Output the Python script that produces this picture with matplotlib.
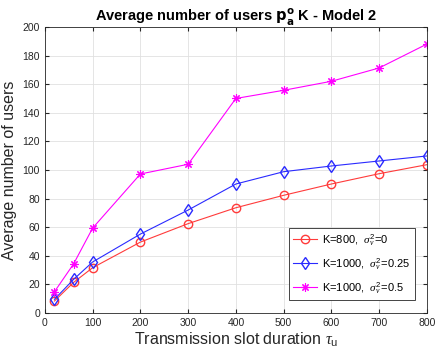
import matplotlib
matplotlib.use('Agg')
import matplotlib.pyplot as plt

plt.rcParams['font.family'] = ['Liberation Sans', 'DejaVu Sans']
plt.rcParams['mathtext.fontset'] = 'custom'
plt.rcParams['mathtext.rm'] = 'Liberation Sans'
plt.rcParams['mathtext.it'] = 'Liberation Serif:italic'

tau = [20, 60, 100, 200, 300, 400, 500, 600, 700, 800]
k800_s0 = [8.4, 21.4, 31.7, 49.6, 62.5, 73.6, 82.3, 90.2, 97.4, 103.7]
k1000_s025 = [9.6, 23.5, 35.7, 55.2, 72.0, 90.2, 98.8, 102.8, 106.3, 109.8]
k1000_s05 = [14.9, 34.3, 59.4, 97.2, 104.0, 150.0, 155.7, 162.0, 171.3, 188.0]

labels = [r'K=800,  $\sigma_v^2$=0', r'K=1000,  $\sigma_v^2$=0.25', r'K=1000,  $\sigma_v^2$=0.5']

fig = plt.figure(figsize=(4.36, 3.59), dpi=100)
ax = fig.add_axes([0.103, 0.128, 0.876, 0.797])

ax.plot(tau, k800_s0, color='#ff3b3b', marker='o', ms=6, mfc='none', lw=0.8, label=labels[0])
ax.plot(tau, k1000_s025, color='#2a2aff', marker='d', ms=6, mfc='none', lw=0.8, label=labels[1])
ax.plot(tau, k1000_s05, color='#ff00ff', marker=(8, 2, 0), ms=6, mew=0.8, lw=0.8, label=labels[2])

ax.set_xlim(0, 800)
ax.set_ylim(0, 200)
ax.set_xticks(range(0, 801, 100))
ax.set_yticks(range(0, 201, 20))
ax.grid(True, color='#e0e0e0', lw=0.6)
ax.set_axisbelow(True)
ax.tick_params(direction='in', top=True, right=True, labelsize=7.5, length=3, colors='#262626')
for s in ax.spines.values():
    s.set_color('#262626')
    s.set_linewidth(0.6)

ax.set_xlabel(r'Transmission slot duration $\tau_\mathrm{u}$', fontsize=11.5, color='#262626', labelpad=2)
ax.set_ylabel('Average number of users', fontsize=11.5, color='#262626', labelpad=4)
ax.set_title(r'Average number of users $\mathbf{p_a^o}$ K - Model 2', fontsize=10.5, fontweight='bold', pad=4)

leg = ax.legend(loc='lower right', bbox_to_anchor=(0.969, 0.045), borderaxespad=0, fontsize=8,
                fancybox=False, edgecolor='#262626', framealpha=1, handlelength=2.1,
                handletextpad=0.5, labelspacing=0.75)
leg.get_frame().set_linewidth(0.6)

fig.savefig('out.png', dpi=100)
